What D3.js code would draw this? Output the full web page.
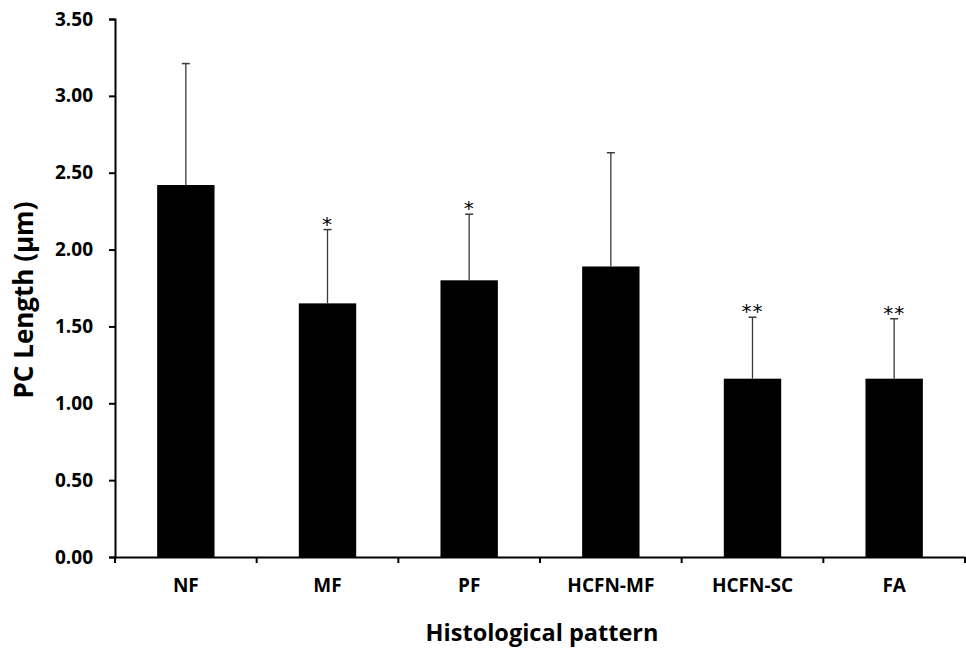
<!DOCTYPE html>
<html>
<head>
<meta charset="utf-8">
<script src="https://cdn.jsdelivr.net/npm/d3@7"></script>
<style>
  body { margin: 0; background: #fff; }
  text { font-family: "Open Sans", Lato, sans-serif; font-weight: bold; }
</style>
</head>
<body>
<script>
// data
const categories = ["NF", "MF", "PF", "HCFN-MF", "HCFN-SC", "FA"];
const means = [2.42, 1.65, 1.80, 1.89, 1.16, 1.16];
const errorTops = [3.21, 2.13, 2.23, 2.63, 1.56, 1.55];
const marks = ["", "*", "*", "", "**", "**"];
const yTicks = [0, 0.5, 1, 1.5, 2, 2.5, 3, 3.5];

const width = 966, height = 650;
const margin = {top: 19, right: 1, bottom: 93, left: 115};
const innerW = width - margin.left - margin.right;
const innerH = height - margin.top - margin.bottom;

const svg = d3.select("body").append("svg")
  .attr("width", width)
  .attr("height", height);

const chart = svg.append("g")
  .attr("transform", "translate(" + margin.left + "," + margin.top + ")");

const x = d3.scaleBand()
  .domain(categories)
  .range([0, innerW])
  .paddingInner(0.595)
  .paddingOuter(0.2975);

const y = d3.scaleLinear()
  .domain([0, 3.5])
  .range([innerH, 0]);

// bars
chart.selectAll(".bar")
  .data(categories)
  .enter().append("rect")
  .attr("class", "bar")
  .attr("x", d => x(d))
  .attr("y", (d, i) => y(means[i]))
  .attr("width", x.bandwidth())
  .attr("height", (d, i) => innerH - y(means[i]))
  .attr("fill", "#000");

// error bars (upper only)
const err = chart.selectAll(".err")
  .data(categories)
  .enter().append("g")
  .attr("class", "err")
  .attr("transform", d => "translate(" + (x(d) + x.bandwidth() / 2) + ",0)");

err.append("line")
  .attr("y1", (d, i) => y(means[i]))
  .attr("y2", (d, i) => y(errorTops[i]))
  .attr("stroke", "#3a3a3a")
  .attr("stroke-width", 1.3);

err.append("line")
  .attr("x1", -4).attr("x2", 4)
  .attr("y1", (d, i) => y(errorTops[i]))
  .attr("y2", (d, i) => y(errorTops[i]))
  .attr("stroke", "#3a3a3a")
  .attr("stroke-width", 1.5);

err.append("text")
  .attr("y", (d, i) => y(errorTops[i]) + 1)
  .attr("text-anchor", "middle")
  .style("font-family", "'DejaVu Sans', sans-serif")
  .style("font-weight", "normal")
  .style("font-size", "20px")
  .style("fill", "#000")
  .attr("letter-spacing", "1px")
  .text((d, i) => marks[i]);

// y axis
const yAxis = chart.append("g")
  .attr("class", "y axis")
  .call(d3.axisLeft(y).tickValues(yTicks).tickFormat(d3.format(".2f")).tickSize(6).tickSizeOuter(6));

// x axis
const xAxis = chart.append("g")
  .attr("class", "x axis")
  .attr("transform", "translate(0," + innerH + ")")
  .call(d3.axisBottom(x).tickSize(0).tickSizeOuter(0));

// category separator ticks
xAxis.selectAll(".sep")
  .data(d3.range(categories.length + 1))
  .enter().append("line")
  .attr("class", "sep")
  .attr("x1", i => i * x.step())
  .attr("x2", i => i * x.step())
  .attr("y1", 0)
  .attr("y2", 6)
  .attr("stroke", "#000")
  .attr("stroke-width", 2);

svg.selectAll(".axis path, .axis line")
  .attr("stroke", "#000")
  .attr("stroke-width", 2);

yAxis.selectAll("text")
  .attr("x", -22)
  .style("font-size", "19px")
  .attr("fill", "#000");

xAxis.selectAll(".tick text")
  .attr("y", 22)
  .style("font-size", "19px")
  .attr("fill", "#000");

// axis titles
svg.append("text")
  .attr("transform", "translate(33,300) rotate(-90)")
  .attr("text-anchor", "middle")
  .style("font-size", "26px")
  .text("PC Length (µm)");

svg.append("text")
  .attr("x", 542)
  .attr("y", 641)
  .attr("text-anchor", "middle")
  .style("font-size", "23.5px")
  .text("Histological pattern");
</script>
</body>
</html>
